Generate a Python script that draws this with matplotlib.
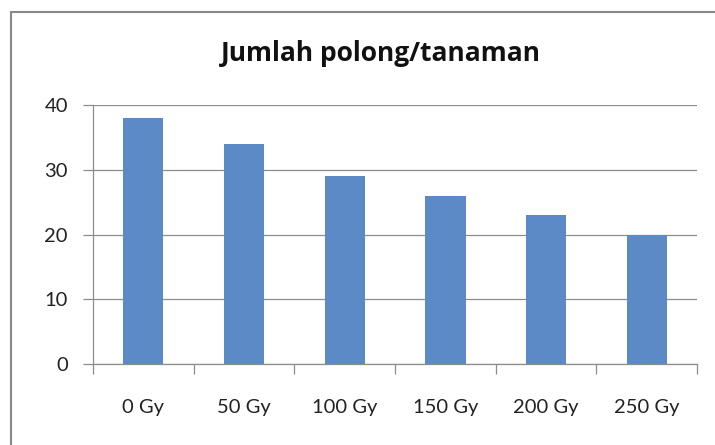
import matplotlib.pyplot as plt
from matplotlib.patches import Rectangle
from matplotlib.ticker import FixedLocator

categories = ['0 Gy', '50 Gy', '100 Gy', '150 Gy', '200 Gy', '250 Gy']
values = [38, 34, 29, 26, 23, 20]
title = 'Jumlah polong/tanaman'

plt.rcParams['font.family'] = ['Lato', 'DejaVu Sans']

fig = plt.figure(figsize=(7.15, 4.45), dpi=100)
ax = fig.add_axes([0.130, 0.182, 0.845, 0.582])

x = list(range(len(categories)))
ax.bar(x, values, width=0.4, color='#5B8AC6', zorder=3)

ax.set_xlim(-0.5, len(categories) - 0.5)
ax.set_ylim(0, 40)
ax.set_yticks([0, 10, 20, 30, 40])
ax.yaxis.grid(True, color='#8C8C8C', linewidth=0.9, zorder=0)

# category labels without ticks, ticks at category boundaries
ax.set_xticks(x)
ax.set_xticklabels(categories, fontsize=14.5, color='#222222')
ax.tick_params(axis='x', which='major', length=0, pad=25)
ax.xaxis.set_minor_locator(FixedLocator([i - 0.5 for i in range(len(categories) + 1)]))
ax.tick_params(axis='x', which='minor', length=7, width=0.9, color='#8C8C8C', direction='out')
ax.tick_params(axis='y', length=7, width=0.9, color='#8C8C8C', labelsize=14.5,
               labelcolor='#222222', pad=11)

for side in ['top', 'right']:
    ax.spines[side].set_visible(False)
for side in ['left', 'bottom']:
    ax.spines[side].set_color('#8C8C8C')
    ax.spines[side].set_linewidth(0.9)

fig.text(0.533, 0.880, title, ha='center', va='center', fontsize=19,
         fontweight='bold', color='#111111', family=['Open Sans', 'DejaVu Sans'])

# outer chart border
fig.patches.append(Rectangle((11 / 715, -0.1), 1.2, 0.973 + 0.1,
                             transform=fig.transFigure, fill=False,
                             edgecolor='#888888', linewidth=1.5))

fig.savefig('out.png', dpi=100)
